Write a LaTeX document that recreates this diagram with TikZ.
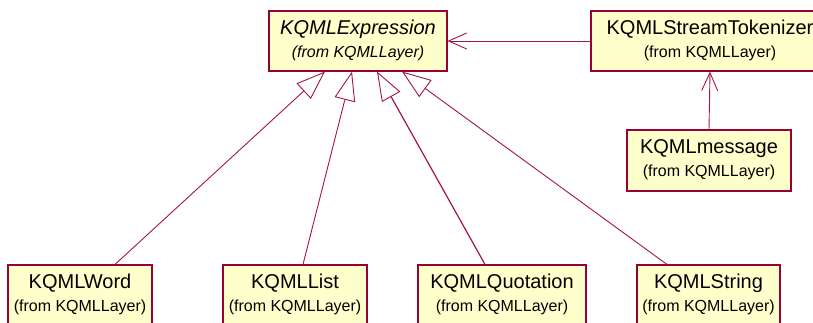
\documentclass[tikz,border=0pt]{standalone}
\usepackage{fontspec}
\setmainfont{Liberation Sans}
\usetikzlibrary{arrows.meta}
\definecolor{umlborder}{RGB}{153,0,51}
\definecolor{umlline}{RGB}{165,20,70}
\definecolor{umlfill}{RGB}{255,255,204}
\tikzset{
  classbox/.style={draw=umlborder, fill=umlfill, line width=1.1pt, rectangle, inner sep=0pt},
  ctitle/.style={anchor=base, inner sep=0pt, font=\fontsize{20}{24}\selectfont},
  csub/.style={anchor=base, inner sep=0pt, font=\fontsize{16}{19}\selectfont},
  inherit/.style={draw=umlline, line width=0.9pt, -{Triangle[open,length=29pt,width=21pt,line width=0.9pt]}},
  assoc/.style={draw=umlline, line width=0.9pt, -{Straight Barb[length=18pt,width=16pt,line width=0.9pt]}}
}
\newcommand{\classlabel}[3]{%
  \node[ctitle] at ([yshift=-24pt]#1.north) {#2};
  \node[csub] at ([yshift=-47pt]#1.north) {#3};}
\begin{document}
\begin{tikzpicture}[x=1pt,y=-1pt]
\useasboundingbox (0,0) rectangle (813,323);
\begin{scope}
\clip (0,0) rectangle (813,323);
% classes
\node[classbox, minimum width=178pt, minimum height=60pt] (expr) at (358,41) {};
\node[classbox, minimum width=238pt, minimum height=60pt] (tok) at (710,41) {};
\node[classbox, minimum width=164pt, minimum height=61pt] (msg) at (709,160.5) {};
\node[classbox, minimum width=144pt, minimum height=60pt] (word) at (80,295) {};
\node[classbox, minimum width=144pt, minimum height=60pt] (list) at (295,295) {};
\node[classbox, minimum width=168pt, minimum height=60pt] (quot) at (502,295) {};
\node[classbox, minimum width=143pt, minimum height=60pt] (str) at (708.5,295) {};
% labels
\node[ctitle, font=\fontsize{20}{24}\selectfont\itshape] at ([yshift=-24pt]expr.north) {KQMLExpression};
\node[csub, font=\fontsize{16}{19}\selectfont\itshape] at ([yshift=-47pt]expr.north) {(from KQMLLayer)};
\classlabel{tok}{KQMLStreamTokenizer}{(from KQMLLayer)}
\classlabel{msg}{KQMLmessage}{(from KQMLLayer)}
\classlabel{word}{KQMLWord}{(from KQMLLayer)}
\classlabel{list}{KQMLList}{(from KQMLLayer)}
\classlabel{quot}{KQMLQuotation}{(from KQMLLayer)}
\classlabel{str}{KQMLString}{(from KQMLLayer)}
% associations
\draw[assoc] (tok.west) -- (expr.east);
\draw[assoc] (msg.north) -- (tok.south);
% generalizations
\draw[inherit] ([xshift=35pt]word.north) -- ([xshift=-33pt]expr.south);
\draw[inherit] ([xshift=8pt]list.north) -- ([xshift=-6pt]expr.south);
\draw[inherit, line width=1.2pt] ([xshift=-17pt]quot.north) -- ([xshift=19pt]expr.south);
\draw[inherit] ([xshift=-41.5pt]str.north) -- ([xshift=44pt]expr.south);
\end{scope}
\end{tikzpicture}
\end{document}
